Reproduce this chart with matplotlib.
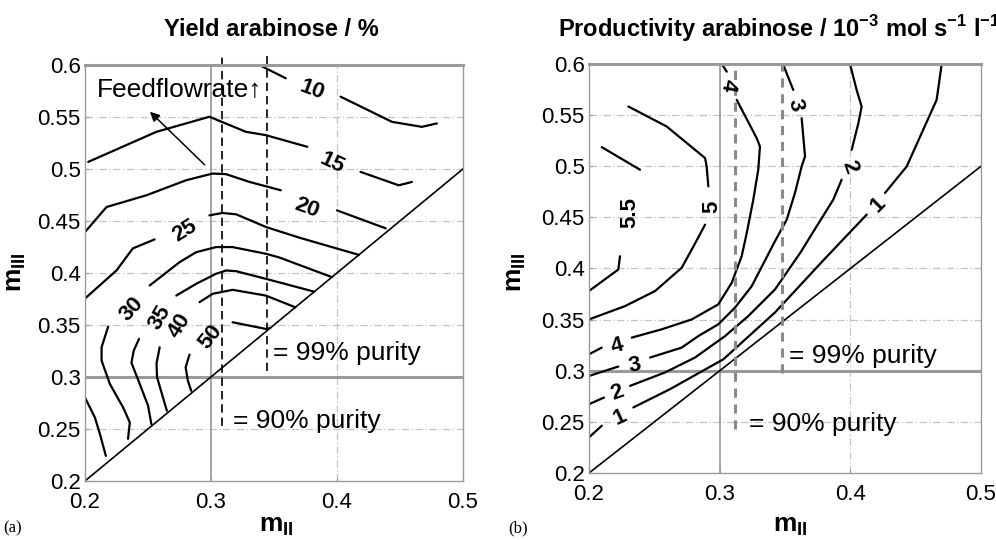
import matplotlib
matplotlib.use("Agg")
import matplotlib.pyplot as plt

plt.rcParams['font.family'] = ['Liberation Sans', 'DejaVu Sans']
plt.rcParams['mathtext.fontset'] = 'custom'
plt.rcParams['mathtext.rm'] = 'Liberation Sans'
plt.rcParams['mathtext.bf'] = 'Liberation Sans:bold'

# axis ticks
x_ticks = [0.2, 0.3, 0.4, 0.5]
y_ticks = [0.2, 0.25, 0.3, 0.35, 0.4, 0.45, 0.5, 0.55, 0.6]

# yield contours (mII, mIII), pieces between the inline labels
yield_10 = [[(0.3383, 0.600), (0.3594, 0.5872)],
            [(0.4029, 0.5695), (0.4437, 0.5453), (0.4674, 0.5405), (0.4793, 0.5438)]]
yield_15 = [[(0.2026, 0.5068), (0.2567, 0.5357), (0.2988, 0.5502), (0.3278, 0.5357),
             (0.3436, 0.5325), (0.3765, 0.5213)],
            [(0.4187, 0.4972), (0.449, 0.4843), (0.4595, 0.4875)]]
yield_20 = [[(0.2, 0.4393), (0.2171, 0.4634), (0.2488, 0.4747), (0.2804, 0.4892),
             (0.3014, 0.4956), (0.312, 0.495), (0.3304, 0.4876), (0.3555, 0.4795)],
            [(0.4, 0.4602), (0.4387, 0.4429)]]
yield_25 = [[(0.2, 0.3754), (0.225, 0.4024), (0.238, 0.4236), (0.2553, 0.4323)],
            [(0.2988, 0.4554), (0.309, 0.4577), (0.320, 0.4564), (0.3439, 0.4441),
             (0.370, 0.434), (0.4174, 0.4174)],
            [(0.2, 0.2803), (0.2079, 0.261), (0.2119, 0.245), (0.2166, 0.2241)]]
yield_30 = [[(0.2184, 0.3484), (0.2132, 0.3285), (0.2132, 0.3157), (0.2198, 0.2932),
             (0.2303, 0.2707), (0.2356, 0.2562), (0.2342, 0.2405)],
            [(0.2514, 0.388), (0.2751, 0.4104), (0.2883, 0.420), (0.3041, 0.4249),
             (0.317, 0.4249), (0.3435, 0.4185), (0.354, 0.415), (0.396, 0.396)]]
yield_35 = [[(0.2429, 0.3366), (0.2387, 0.3253), (0.2369, 0.3137), (0.2435, 0.2932),
             (0.2501, 0.2723), (0.2527, 0.2547)],
            [(0.2725, 0.3783), (0.2883, 0.3896), (0.304, 0.3992), (0.312, 0.4024),
             (0.320, 0.4017), (0.3435, 0.3944), (0.382, 0.382)]]
yield_40 = [[(0.2593, 0.3285), (0.2568, 0.313), (0.2572, 0.300), (0.2619, 0.2803),
             (0.265, 0.2675)],
            [(0.2909, 0.3719), (0.3014, 0.380), (0.3172, 0.3838), (0.3435, 0.3783),
             (0.367, 0.367)]]
yield_50 = [[(0.283, 0.3215), (0.2799, 0.3092), (0.2817, 0.2964), (0.2843, 0.2867)],
            [(0.3172, 0.3526), (0.3435, 0.3462), (0.347, 0.347)]]

yield_labels = ['10', '15', '20', '25', '30', '35', '40', '50']
yield_label_x = [0.3805, 0.3963, 0.376, 0.279, 0.2369, 0.2593, 0.2751, 0.3001]
yield_label_y = [0.5759, 0.5053, 0.462, 0.441, 0.3655, 0.3574, 0.3494, 0.3381]

# productivity contours
prod_1 = [[(0.2, 0.2348), (0.2097, 0.2462)],
          [(0.2339, 0.2641), (0.262, 0.282), (0.3028, 0.3112), (0.3423, 0.357),
           (0.3793, 0.408), (0.4125, 0.4527)],
          [(0.4265, 0.4739), (0.4431, 0.4998), (0.466, 0.5649), (0.4699, 0.600)]]
prod_2 = [[(0.2, 0.2673), (0.2115, 0.2738)],
          [(0.2314, 0.2852), (0.2581, 0.2983), (0.2811, 0.3129), (0.3041, 0.3339),
           (0.3219, 0.3535), (0.3423, 0.3795), (0.362, 0.416), (0.3742, 0.4413),
           (0.3869, 0.4673), (0.3933, 0.4868)],
          [(0.401, 0.5161), (0.4061, 0.5421), (0.4086, 0.5583), (0.4048, 0.5746),
           (0.3997, 0.600)]]
prod_3 = [[(0.2, 0.2949), (0.2224, 0.3041)],
          [(0.2467, 0.3129), (0.2709, 0.3226), (0.2836, 0.3339), (0.2989, 0.3454),
           (0.3117, 0.3617), (0.3245, 0.3827), (0.3423, 0.4267), (0.3513, 0.4478),
           (0.3576, 0.4739), (0.3627, 0.4998), (0.3653, 0.5096), (0.3627, 0.547)],
          [(0.3563, 0.5746), (0.3487, 0.599)]]
prod_4 = [[(0.2, 0.3161), (0.2097, 0.3226)],
          [(0.2327, 0.3324), (0.2556, 0.3405), (0.2786, 0.3502), (0.2989, 0.3649),
           (0.3092, 0.386), (0.3168, 0.412), (0.3207, 0.4348), (0.3257, 0.4673),
           (0.3295, 0.4966), (0.3308, 0.5193), (0.3283, 0.5275), (0.313, 0.5649)],
          [(0.3054, 0.5925), (0.3015, 0.600)]]
prod_5 = [[(0.2, 0.3502), (0.2275, 0.3632), (0.2505, 0.3779), (0.2709, 0.4007),
           (0.28, 0.4218), (0.2888, 0.4429)],
          [(0.2913, 0.4803), (0.29, 0.4998), (0.2888, 0.508), (0.2594, 0.5389),
           (0.2301, 0.5584)]]
prod_55 = [[(0.2, 0.378), (0.2224, 0.399), (0.2237, 0.412)],
           [(0.239, 0.4966), (0.2097, 0.5187)]]

prod_labels = ['1', '2', '3', '4', '1', '2', '3', '4', '5', '5.5']
prod_label_x = [0.2237, 0.2212, 0.2352, 0.2212, 0.4213, 0.3997, 0.3576, 0.3066, 0.2939, 0.2314]
prod_label_y = [0.2543, 0.2787, 0.3047, 0.3242, 0.4624, 0.4998, 0.5600, 0.5795, 0.4608, 0.4543]

# purity limits (mII of the vertical dashed lines and their lower ends)
yield_purity_x = [0.309, 0.3444]
yield_purity_ymin = [0.253, 0.306]
prod_purity_x = [0.3117, 0.3477]
prod_purity_ymin = [0.243, 0.298]

yield_rot = [-20, -25, -20, 32, 48, 60, 58, 52]
prod_rot = [25, 20, 10, 15, 45, -70, -78, -100, 90, 90]

GRID_C = '#c4c4c4'
FRAME_C = '#9a9a9a'


def base_axes(ax):
    ax.set_xlim(0.2, 0.5)
    ax.set_ylim(0.2, 0.6)
    ax.set_xticks(x_ticks)
    ax.set_xticklabels(['0.2', '0.3', '0.4', '0.5'])
    ax.set_yticks(y_ticks)
    ax.set_yticklabels(['0.2', '0.25', '0.3', '0.35', '0.4', '0.45', '0.5', '0.55', '0.6'])
    ax.tick_params(direction='in', length=3, width=0.8, color=FRAME_C,
                   labelsize=16, pad=3)
    ax.tick_params(axis='x', pad=8)
    for s in ax.spines.values():
        s.set_color(FRAME_C)
        s.set_linewidth(1.0)
    ax.spines['top'].set_linewidth(2.2)
    for yv in [0.25, 0.35, 0.4, 0.45, 0.5, 0.55]:
        ax.axhline(yv, color=GRID_C, lw=0.9, ls=(0, (6, 2, 1, 2)), zorder=0)
    ax.axvline(0.4, color=GRID_C, lw=0.9, ls=(0, (6, 2, 1, 2)), zorder=0)
    ax.axhline(0.3, color=FRAME_C, lw=2.2, zorder=1)
    ax.axvline(0.3, color='#8c8c8c', lw=1.1, zorder=1)
    ax.plot([0.2, 0.5], [0.2, 0.5], color='k', lw=1.2)


def draw_contours(ax, levels, labels, lx, ly, rots):
    for pieces in levels:
        for piece in pieces:
            xs = [p[0] for p in piece]
            ys = [p[1] for p in piece]
            ax.plot(xs, ys, color='k', lw=1.6, solid_capstyle='round')
    for t, x, y, r in zip(labels, lx, ly, rots):
        ax.text(x, y, t, rotation=r, ha='center', va='center',
                fontsize=16, fontweight='bold', rotation_mode='anchor')


fig = plt.figure(figsize=(9.96, 5.4), dpi=100)
ax1 = fig.add_axes([0.0853, 0.1093, 0.3795, 0.7704])
ax2 = fig.add_axes([0.5914, 0.1241, 0.3936, 0.7574])

# (a) yield
base_axes(ax1)
draw_contours(ax1, [yield_10, yield_15, yield_20, yield_25, yield_30, yield_35,
                    yield_40, yield_50],
              yield_labels, yield_label_x, yield_label_y, yield_rot)
for xv, y0 in zip(yield_purity_x, yield_purity_ymin):
    ax1.plot([xv, xv], [y0, 0.61], color='k', lw=1.2, ls=(0, (5, 3)), clip_on=False)
ax1.text(0.349, 0.3234, '= 99% purity', fontsize=19, va='center')
ax1.text(0.3175, 0.2578, '= 90% purity', fontsize=19, va='center')
ax1.text(0.2095, 0.5759, 'Feedflowrate\u2191', fontsize=19, va='center')
ax1.annotate('', xy=(0.2516, 0.555), xytext=(0.295, 0.504),
             arrowprops=dict(arrowstyle='-|>', color='k', lw=1.1,
                             mutation_scale=14, shrinkA=0, shrinkB=0))

# (b) productivity
base_axes(ax2)
draw_contours(ax2, [prod_1, prod_2, prod_3, prod_4, prod_5, prod_55],
              prod_labels, prod_label_x, prod_label_y, prod_rot)
for xv, y0 in zip(prod_purity_x, prod_purity_ymin):
    ax2.plot([xv, xv], [y0, 0.6], color='#8a8a8a', lw=2.2, ls=(0, (3, 2.2)))
ax2.text(0.353, 0.3142, '= 99% purity', fontsize=19, va='center')
ax2.text(0.3224, 0.2478, '= 90% purity', fontsize=19, va='center')

# titles and labels
fig.text(271 / 996, 1 - 29 / 540, 'Yield arabinose / %', fontsize=17,
         fontweight='bold', ha='center', va='center')
fig.text(558 / 996, 1 - 29 / 540,
         r'Productivity arabinose / 10$^{\mathbf{-3}}$ mol s$^{\mathbf{-1}}$ l$^{\mathbf{-1}}$',
         fontsize=17, fontweight='bold', ha='left', va='center')
for xc in [276, 790]:
    fig.text(xc / 996, 1 - 526 / 540, r'$\mathbf{m}_{\mathbf{II}}$', fontsize=19,
             ha='center', va='center')
for xc in [16, 516]:
    fig.text(xc / 996, 1 - 272 / 540, r'$\mathbf{m}_{\mathbf{III}}$', fontsize=19,
             ha='center', va='center', rotation=90)
fig.text(3 / 996, 1 - 528 / 540, '(a)', fontsize=12, family='Liberation Serif',
         ha='left', va='center')
fig.text(508 / 996, 1 - 528 / 540, '(b)', fontsize=12, family='Liberation Serif',
         ha='left', va='center')

fig.savefig('out.png', dpi=100)
